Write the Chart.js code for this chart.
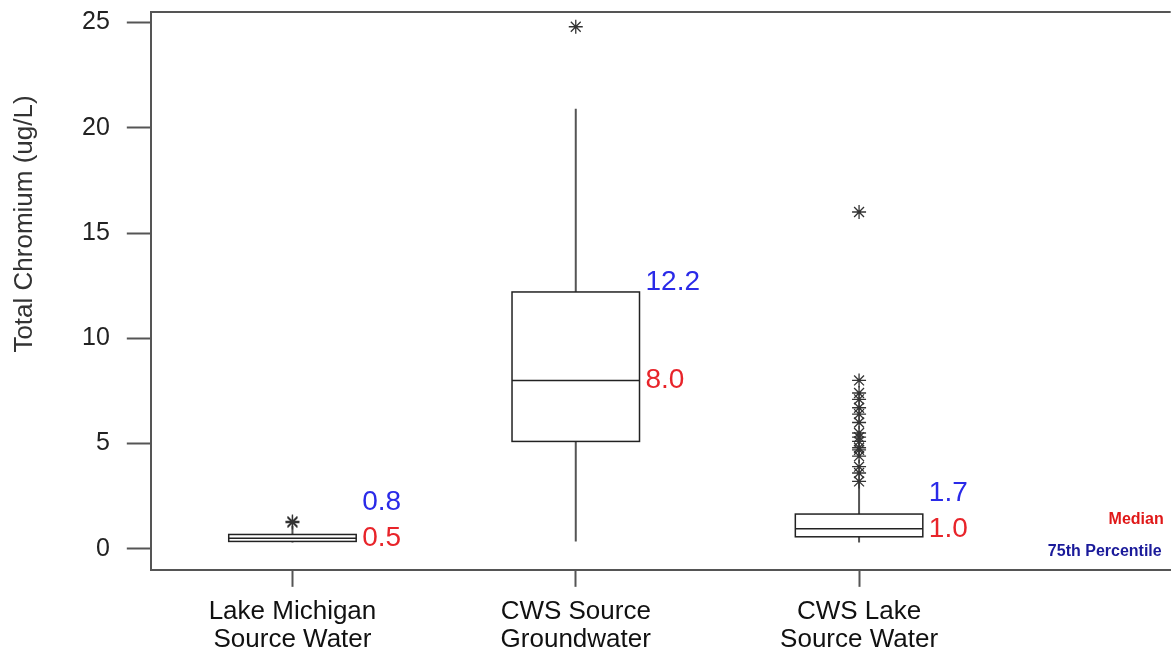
<!DOCTYPE html>
<html>
<head>
<meta charset="utf-8">
<script src="https://cdn.jsdelivr.net/npm/chart.js@4.4.1/dist/chart.umd.min.js"></script>
<style>
  html, body { margin: 0; padding: 0; background: #fff; overflow: hidden; }
  #wrap { position: absolute; left: 0; top: -20px; width: 1179px; height: 685px; }
</style>
</head>
<body>
<div id="wrap"><canvas id="myChart"></canvas></div>
<script>
// box plot values (ug/L)
const categories = [['Lake Michigan', 'Source Water'], ['CWS Source', 'Groundwater'], ['CWS Lake', 'Source Water']];
const whiskerLow = [0.3, 0.35, 0.3];
const q1 = [0.35, 5.1, 0.57];
const median = [0.5, 8.0, 0.95];
const q3 = [0.68, 12.2, 1.65];
const whiskerHigh = [1.1, 20.9, 3.2];
const outliers = [
    [1.25, 1.3],
    [24.8],
    [16.0, 8.0, 7.4, 7.1, 6.7, 6.4, 6.0, 5.5, 5.3, 5.1, 4.8, 4.7, 4.4, 3.9, 3.6, 3.2]
];
const medianLabels = ['0.5', '8.0', '1.0'];
const q3Labels = ['0.8', '12.2', '1.7'];
const yTicks = [0, 5, 10, 15, 20, 25];
const yTitle = 'Total Chromium (ug/L)';

const BOX_HALF = 0.225;
const FONT = "'Liberation Sans', Arial, sans-serif";

// outliers -> scatter points
let outlierPoints = [];
outliers.forEach((list, i) => {
    list.forEach(v => outlierPoints.push({ x: i + 1, y: v }));
});

// boxes, whiskers and value labels
const boxPlugin = {
    id: 'boxes',
    beforeDatasetsDraw(chart) {
        const ctx = chart.ctx;
        const xs = chart.scales.x;
        const ys = chart.scales.y;
        ctx.save();
        for (let i = 0; i < categories.length; i++) {
            const x = xs.getPixelForValue(i + 1);
            const xl = xs.getPixelForValue(i + 1 - BOX_HALF);
            const xr = xs.getPixelForValue(i + 1 + BOX_HALF);
            const yLo = ys.getPixelForValue(whiskerLow[i]);
            const yQ1 = ys.getPixelForValue(q1[i]);
            const yMed = ys.getPixelForValue(median[i]);
            const yQ3 = ys.getPixelForValue(q3[i]);
            const yHi = ys.getPixelForValue(whiskerHigh[i]);

            // whiskers
            ctx.strokeStyle = '#555';
            ctx.lineWidth = 2;
            ctx.beginPath();
            ctx.moveTo(x, yHi); ctx.lineTo(x, yQ3);
            ctx.moveTo(x, yQ1); ctx.lineTo(x, yLo);
            ctx.stroke();

            // box
            ctx.fillStyle = '#fff';
            ctx.fillRect(xl, yQ3, xr - xl, yQ1 - yQ3);
            ctx.strokeStyle = '#222';
            ctx.lineWidth = 1.5;
            ctx.strokeRect(xl, yQ3, xr - xl, yQ1 - yQ3);
            ctx.beginPath();
            ctx.moveTo(xl, yMed); ctx.lineTo(xr, yMed);
            ctx.stroke();

            // labels
            ctx.font = '28px ' + FONT;
            ctx.textAlign = 'left';
            ctx.textBaseline = 'middle';
            ctx.fillStyle = '#e8242a';
            ctx.fillText(medianLabels[i], xr + 6, yMed);
            ctx.fillStyle = '#2a2ae8';
            ctx.fillText(q3Labels[i], xr + 6, Math.min(yQ3 - 10, yMed - 36));
        }
        ctx.restore();
    },
    afterDraw(chart) {
        const ctx = chart.ctx;
        const a = chart.chartArea;
        ctx.save();
        // top frame line
        ctx.strokeStyle = '#555';
        ctx.lineWidth = 2;
        ctx.beginPath();
        ctx.moveTo(a.left, a.top); ctx.lineTo(a.right, a.top);
        ctx.stroke();
        // key text
        ctx.font = 'bold 16px ' + FONT;
        ctx.textAlign = 'right';
        ctx.textBaseline = 'middle';
        ctx.fillStyle = '#e01818';
        ctx.fillText('Median', a.right - 7, a.bottom - 50);
        ctx.fillStyle = '#1a1a9a';
        ctx.fillText('75th Percentile', a.right - 9, a.bottom - 18);
        // y axis title
        ctx.translate(25, a.top + 212);
        ctx.rotate(-Math.PI / 2);
        ctx.font = '26px ' + FONT;
        ctx.fillStyle = '#333';
        ctx.textAlign = 'center';
        ctx.fillText(yTitle, 0, 0);
        ctx.restore();
    }
};

const ctx = document.getElementById('myChart');
new Chart(ctx, {
    type: 'scatter',
    data: {
        datasets: [{
            label: 'Outliers',
            data: outlierPoints,
            pointStyle: 'star',
            radius: 7,
            borderColor: '#333',
            borderWidth: 1.3,
            backgroundColor: '#333'
        }]
    },
    options: {
        responsive: true,
        maintainAspectRatio: false,
        animation: false,
        layout: { padding: { top: 10, right: 0, left: 65, bottom: 0 } },
        plugins: {
            legend: { display: false },
            tooltip: { enabled: false }
        },
        scales: {
            x: {
                type: 'linear',
                min: 0.5,
                max: 4.1,
                afterBuildTicks: (scale) => {
                    scale.ticks = categories.map((c, i) => ({ value: i + 1 }));
                },
                ticks: {
                    callback: (v) => categories[v - 1],
                    font: { family: FONT, size: 26, lineHeight: 1.08 },
                    color: '#111',
                    padding: 11,
                    maxRotation: 0,
                    autoSkip: false
                },
                grid: { drawOnChartArea: false, tickLength: 17, color: '#555', tickWidth: 2 },
                border: { display: true, color: '#555', width: 2 }
            },
            y: {
                min: -1,
                max: 25.5,
                afterBuildTicks: (scale) => {
                    scale.ticks = yTicks.map(v => ({ value: v }));
                },
                ticks: {
                    font: { family: FONT, size: 25 },
                    color: '#222',
                    padding: 17
                },
                grid: { drawOnChartArea: false, tickLength: 24, color: '#555', tickWidth: 2 },
                border: { display: true, color: '#555', width: 2 }
            }
        }
    },
    plugins: [boxPlugin]
});
</script>
</body>
</html>
